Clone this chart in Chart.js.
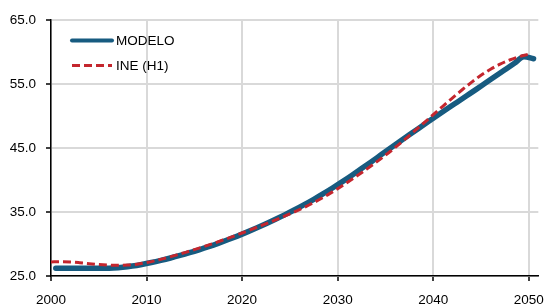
<!DOCTYPE html>
<html><head><meta charset="utf-8">
<script src="https://cdn.jsdelivr.net/npm/chart.js@4"></script>
<style>html,body{margin:0;padding:0;background:#fff;}#wrap{width:555px;height:307px;position:relative;}</style>
</head><body><div id="wrap"><canvas id="c"></canvas></div>
<script>
const years = [2000,2001,2002,2003,2004,2005,2006,2007,2008,2009,2010,2011,2012,2013,2014,2015,2016,2017,2018,2019,2020,2021,2022,2023,2024,2025,2026,2027,2028,2029,2030,2031,2032,2033,2034,2035,2036,2037,2038,2039,2040,2041,2042,2043,2044,2045,2046,2047,2048,2049,2050];
// MODELO values are mid-year (plotted at year + 0.5)
const modelo = [26.2,26.2,26.2,26.2,26.2,26.21,26.26,26.37,26.55,26.8,27.1,27.44,27.81,28.21,28.64,29.1,29.59,30.11,30.66,31.24,31.85,32.49,33.16,33.86,34.59,35.35,36.15,36.99,37.87,38.79,39.75,40.75,41.78,42.83,43.89,44.95,46.01,47.06,48.1,49.13,50.15,51.16,52.16,53.16,54.16,55.18,56.2,57.22,58.24,59.26,58.95];
const ine = [27.2,27.24,27.2,27.08,26.93,26.8,26.71,26.67,26.7,26.85,27.1,27.42,27.8,28.22,28.66,29.12,29.6,30.1,30.62,31.16,31.72,32.29,32.87,33.46,34.07,34.7,35.37,36.09,36.87,37.72,38.65,39.62,40.62,41.66,42.74,43.87,45.06,46.3,47.58,48.89,50.21,51.52,52.81,54.06,55.25,56.36,57.3,58.1,58.75,59.27,59.67];
const xTicks = [2000,2010,2020,2030,2040,2050];
const yTicks = [25,35,45,55,65];
const seriesNames = ['MODELO','INE (H1)'];

const FONT = {family:"'Liberation Sans', Arial, sans-serif", size:13.5};

const legendPlugin = {
  id:'customLegend',
  afterDraw(chart){
    const ctx = chart.ctx;
    const ca = chart.chartArea;
    const x1 = ca.left + 21, x2 = ca.left + 61, tx = ca.left + 65;
    const ys = [ca.top + 20, ca.top + 45];
    chart.data.datasets.forEach((ds,i)=>{
      ctx.save();
      ctx.strokeStyle = ds.borderColor;
      ctx.lineWidth = ds.legendWidth;
      ctx.lineCap = ds.borderDash && ds.borderDash.length ? 'butt' : 'round';
      ctx.setLineDash(ds.borderDash || []);
      ctx.beginPath();
      ctx.moveTo(x1, ys[i]+0.5); ctx.lineTo(x2, ys[i]+0.5); ctx.stroke();
      ctx.setLineDash([]);
      ctx.fillStyle = '#000';
      ctx.font = FONT.size + 'px ' + FONT.family;
      ctx.textBaseline = 'middle';
      ctx.textAlign = 'left';
      ctx.fillText(ds.label, tx, ys[i]+1);
      ctx.restore();
    });
  }
};

new Chart(document.getElementById('c'), {
  type:'line',
  data:{
    datasets:[
      {label:seriesNames[0], data:years.map((y,i)=>({x:y+0.5,y:modelo[i]})), borderColor:'#175b80', borderWidth:5.5, legendWidth:4, borderCapStyle:'round', borderJoinStyle:'round', pointRadius:0, cubicInterpolationMode:'monotone', fill:false, order:2},
      {label:seriesNames[1], data:years.map((y,i)=>({x:y,y:ine[i]})), borderColor:'#c4262e', borderWidth:3, legendWidth:3, borderDash:[8,4], pointRadius:0, cubicInterpolationMode:'monotone', fill:false, order:1}
    ]
  },
  options:{
    responsive:true, maintainAspectRatio:false, animation:false,
    layout:{padding:{top:20,right:11,left:0,bottom:0}},
    plugins:{legend:{display:false}, tooltip:{enabled:false}},
    scales:{
      x:{type:'linear', min:2000, max:2051,
        afterBuildTicks:s=>{s.ticks = xTicks.map(v=>({value:v}));},
        afterFit:s=>{s.height = 31;},
        ticks:{font:FONT, color:'#000', padding:11, maxRotation:0, autoSkip:false, callback:v=>String(v)},
        grid:{color:'#d9d9d9', lineWidth:2, tickColor:'#000', tickLength:5, tickWidth:1.5},
        border:{color:'#000', width:1.5}
      },
      y:{type:'linear', min:25, max:65,
        afterBuildTicks:s=>{s.ticks = yTicks.map(v=>({value:v}));},
        afterFit:s=>{s.width = 51;},
        ticks:{font:FONT, color:'#000', padding:10, callback:v=>v.toFixed(1)},
        grid:{color:'#d9d9d9', lineWidth:2, tickColor:'#000', tickLength:5, tickWidth:1.5},
        border:{color:'#000', width:1.5}
      }
    }
  },
  plugins:[legendPlugin]
});
</script></body></html>
